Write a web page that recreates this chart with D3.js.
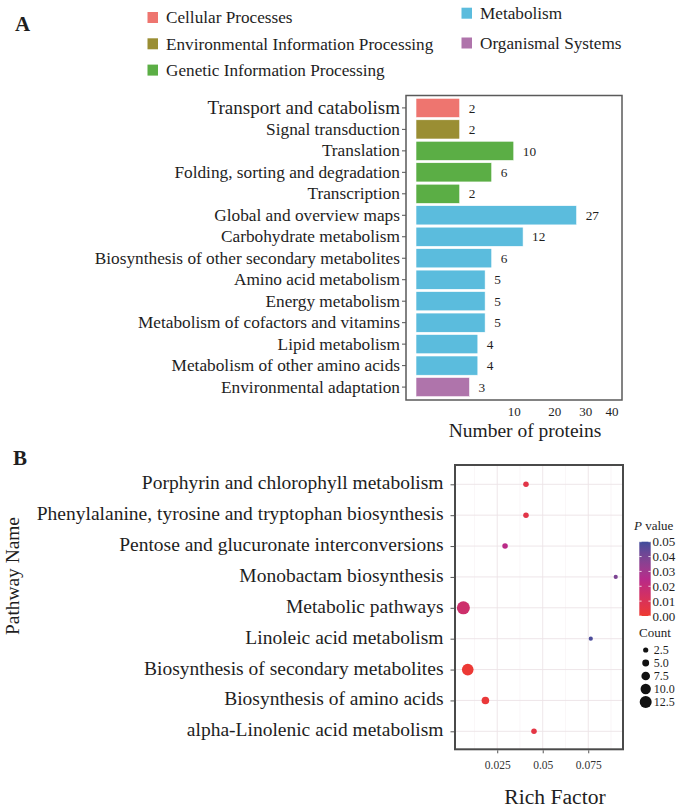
<!DOCTYPE html>
<meta charset="utf-8">
<head>
    <title>KEGG classification and enrichment</title>
</head>

<style>
    body { margin: 0; background: #fff; }
    svg text { font-family: "Liberation Serif", "Times New Roman", serif; fill: #1e1e1e; }
    .frame { fill: none; stroke: #5a5a5a; stroke-width: 1.5px; }
    .tick line { stroke: #555; }
    .grid-major { stroke: #ece3e6; stroke-width: 0.9px; }
    .grid-minor { stroke: #f5f0f2; stroke-width: 0.6px; }
</style>

<script src="https://d3js.org/d3.v7.min.js"></script>

<div id="chart"></div>

<script>
    // ---- panel A data: KEGG classes ----
    var groups = ["Cellular Processes", "Environmental Information Processing",
        "Genetic Information Processing", "Metabolism", "Organismal Systems"];
    var groupColors = ["#ee756f", "#9a8e33", "#5bae45", "#5bbcdd", "#af74ab"];

    var pathways = ["Transport and catabolism", "Signal transduction", "Translation",
        "Folding, sorting and degradation", "Transcription", "Global and overview maps",
        "Carbohydrate metabolism", "Biosynthesis of other secondary metabolites",
        "Amino acid metabolism", "Energy metabolism", "Metabolism of cofactors and vitamins",
        "Lipid metabolism", "Metabolism of other amino acids", "Environmental adaptation"];
    var pathwayGroup = [0, 1, 2, 2, 2, 3, 3, 3, 3, 3, 3, 3, 3, 4];
    var proteins = [2, 2, 10, 6, 2, 27, 12, 6, 5, 5, 5, 4, 4, 3];
    var proteinTicks = [10, 20, 30, 40];

    // ---- panel B data: enrichment ----
    var enrichNames = ["Porphyrin and chlorophyll metabolism",
        "Phenylalanine, tyrosine and tryptophan biosynthesis",
        "Pentose and glucuronate interconversions", "Monobactam biosynthesis",
        "Metabolic pathways", "Linoleic acid metabolism",
        "Biosynthesis of secondary metabolites", "Biosynthesis of amino acids",
        "alpha-Linolenic acid metabolism"];
    var richFactor = [0.0408, 0.0408, 0.0293, 0.0901, 0.0064, 0.0764, 0.0088, 0.0185, 0.0452];
    var pValue = [0.006, 0.006, 0.024, 0.039, 0.016, 0.048, 0.001, 0.002, 0.005];
    var geneCount = [3, 3, 3, 1, 14, 1, 12, 6, 3];
    var richTicks = [0.025, 0.05, 0.075];
    var richMinor = [0.0125, 0.0375, 0.0625, 0.0875];
    var pTicks = [0, 0.01, 0.02, 0.03, 0.04, 0.05];
    var countTicks = [2.5, 5, 7.5, 10, 12.5];

    var W = 685, H = 810;

    var svg = d3.select("#chart")
        .append("svg")
        .attr("width", W)
        .attr("height", H);

    svg.append("rect").attr("width", W).attr("height", H).attr("fill", "#fff");

    // panel letters
    svg.append("text").attr("x", 15).attr("y", 31).style("font-size", "21px").style("font-weight", "bold").text("A");
    svg.append("text").attr("x", 13).attr("y", 465).style("font-size", "21px").style("font-weight", "bold").text("B");

    // ================= PANEL A =================
    // legend, two columns
    var legCols = [{ x: 147.5, y0: 17.5, step: 26.3 }, { x: 461.5, y0: 13.2, step: 29.8 }];
    var leg = svg.append("g").selectAll("g")
        .data(groups)
        .enter().append("g")
        .attr("transform", function (d, i) {
            var c = legCols[Math.floor(i / 3)];
            return "translate(" + c.x + "," + (c.y0 + (i % 3) * c.step) + ")";
        });
    leg.append("rect")
        .attr("x", 0).attr("y", -5.5)
        .attr("width", 10.5).attr("height", 11)
        .attr("fill", function (d, i) { return groupColors[i]; });
    leg.append("text")
        .attr("x", 18.5)
        .attr("dy", "0.34em")
        .style("font-size", "17.2px")
        .text(function (d) { return d; });

    var xA = d3.scaleSqrt().domain([0, 44.4]).range([416, 622]);
    var yA = d3.scaleBand().domain(pathways).range([98.3, 396.7]).paddingInner(0.105).paddingOuter(0);

    // y axis with labels
    var gyA = svg.append("g")
        .attr("transform", "translate(406,0)")
        .call(d3.axisLeft(yA).tickSize(4).tickPadding(2));
    gyA.select(".domain").remove();
    gyA.selectAll(".tick text")
        .style("font-size", function (d, i) { return i === 0 ? "19px" : "17.3px"; })
        .attr("dy", "0.32em");

    // bars
    svg.append("g").selectAll("rect")
        .data(pathways)
        .enter().append("rect")
        .attr("x", xA(0))
        .attr("y", function (d) { return yA(d); })
        .attr("width", function (d, i) { return xA(proteins[i]) - xA(0); })
        .attr("height", yA.bandwidth())
        .attr("fill", function (d, i) { return groupColors[pathwayGroup[i]]; })
        .attr("stroke", "#ffffff")
        .attr("stroke-width", 0.6);

    // value labels
    svg.append("g").selectAll("text")
        .data(pathways)
        .enter().append("text")
        .attr("x", function (d, i) { return xA(proteins[i]) + 9; })
        .attr("y", function (d) { return yA(d) + yA.bandwidth() / 2; })
        .attr("dy", "0.35em")
        .style("font-size", "13.3px")
        .text(function (d, i) { return proteins[i]; });

    svg.append("rect").attr("class", "frame")
        .attr("x", 406).attr("y", 95.5).attr("width", 216).attr("height", 304.5);

    // x axis
    var gxA = svg.append("g")
        .attr("transform", "translate(0,400)")
        .call(d3.axisBottom(xA).tickValues(proteinTicks).tickSize(0).tickPadding(7));
    gxA.select(".domain").remove();
    gxA.selectAll(".tick text").style("font-size", "13px");

    svg.append("text")
        .attr("x", 525).attr("y", 437)
        .style("text-anchor", "middle")
        .style("font-size", "19.5px")
        .text("Number of proteins");

    // ================= PANEL B =================
    var bLeft = 455, bRight = 623, bTop = 465, bBottom = 749.3;
    var xB = d3.scaleLinear().domain([0.0018, 0.0941]).range([bLeft, bRight]);
    var yB = d3.scalePoint().domain(enrichNames).range([484.3, 731.3]);

    var pColor = d3.scaleLinear()
        .domain([0, 0.025, 0.05])
        .range(["#ee3a31", "#b72a8a", "#3d4c9b"])
        .interpolate(d3.interpolateLab);
    var rScale = d3.scaleLinear().domain([2.5, 12.5]).range([2.6, 6.0]);

    // grid
    svg.append("g").selectAll("line")
        .data(richMinor)
        .enter().append("line").attr("class", "grid-minor")
        .attr("x1", function (d) { return xB(d); }).attr("x2", function (d) { return xB(d); })
        .attr("y1", bTop).attr("y2", bBottom);
    svg.append("g").selectAll("line")
        .data(richTicks)
        .enter().append("line").attr("class", "grid-major")
        .attr("x1", function (d) { return xB(d); }).attr("x2", function (d) { return xB(d); })
        .attr("y1", bTop).attr("y2", bBottom);
    svg.append("g").selectAll("line")
        .data(enrichNames)
        .enter().append("line").attr("class", "grid-major")
        .attr("x1", bLeft).attr("x2", bRight)
        .attr("y1", function (d) { return yB(d); }).attr("y2", function (d) { return yB(d); });

    // points
    svg.append("g").selectAll("circle")
        .data(enrichNames)
        .enter().append("circle")
        .attr("cx", function (d, i) { return xB(richFactor[i]); })
        .attr("cy", function (d) { return yB(d); })
        .attr("r", function (d, i) { return rScale(geneCount[i]); })
        .attr("fill", function (d, i) { return pColor(pValue[i]); });

    svg.append("rect").attr("class", "frame")
        .style("stroke", "#4a4a4a").style("stroke-width", "2px")
        .attr("x", bLeft).attr("y", bTop).attr("width", bRight - bLeft).attr("height", bBottom - bTop);

    var gyB = svg.append("g")
        .attr("transform", "translate(" + (bLeft - 1) + ",0)")
        .call(d3.axisLeft(yB).tickSize(3.5).tickPadding(7));
    gyB.select(".domain").remove();
    gyB.selectAll(".tick text").style("font-size", "19.5px").attr("dy", "0.23em");

    var gxB = svg.append("g")
        .attr("transform", "translate(0," + (bBottom + 1) + ")")
        .call(d3.axisBottom(xB).tickValues(richTicks).tickFormat(d3.format("")).tickSize(3).tickPadding(8));
    gxB.select(".domain").remove();
    gxB.selectAll(".tick text").style("font-size", "11.5px").style("fill", "#333");

    svg.append("text")
        .attr("x", 555).attr("y", 804)
        .style("text-anchor", "middle")
        .style("font-size", "21.6px")
        .text("Rich Factor");

    svg.append("text")
        .attr("transform", "translate(19,576) rotate(-90)")
        .style("text-anchor", "middle")
        .style("font-size", "19.4px")
        .text("Pathway Name");

    // ---- P value colorbar ----
    var pt = svg.append("text").attr("x", 634).attr("y", 530).style("font-size", "13px");
    pt.append("tspan").style("font-style", "italic").text("P");
    pt.append("tspan").text(" value");

    var yBar = d3.scaleLinear().domain([0, 0.05]).range([616, 541.7]);
    var grad = svg.append("defs").append("linearGradient")
        .attr("id", "pgrad").attr("x1", 0).attr("x2", 0).attr("y1", 1).attr("y2", 0);
    grad.selectAll("stop")
        .data(d3.range(0, 0.0501, 0.0025))
        .enter().append("stop")
        .attr("offset", function (d) { return d / 0.05; })
        .attr("stop-color", function (d) { return pColor(d); });
    svg.append("rect")
        .attr("x", 639.3).attr("y", yBar(0.05))
        .attr("width", 11.4).attr("height", yBar(0) - yBar(0.05))
        .attr("fill", "url(#pgrad)");
    var bt = svg.append("g").selectAll("g").data(pTicks).enter().append("g");
    bt.append("line").attr("x1", 639.3).attr("x2", 641.6)
        .attr("y1", function (d) { return yBar(d); }).attr("y2", function (d) { return yBar(d); })
        .attr("stroke", "#fff").attr("stroke-width", 0.8);
    bt.append("line").attr("x1", 648.4).attr("x2", 650.7)
        .attr("y1", function (d) { return yBar(d); }).attr("y2", function (d) { return yBar(d); })
        .attr("stroke", "#fff").attr("stroke-width", 0.8);
    bt.append("text")
        .attr("x", 652.5).attr("y", function (d) { return yBar(d); })
        .attr("dy", "0.35em")
        .style("font-size", "13px")
        .text(function (d) { return d3.format(".2f")(d); });

    // ---- Count legend ----
    svg.append("text").attr("x", 639).attr("y", 637).style("font-size", "13px").text("Count");
    var cl = svg.append("g").selectAll("g")
        .data(countTicks)
        .enter().append("g")
        .attr("transform", function (d, i) { return "translate(645.7," + (650 + i * 13) + ")"; });
    cl.append("circle").attr("r", function (d) { return rScale(d); }).attr("fill", "#111");
    cl.append("text").attr("x", 8).attr("dy", "0.35em").style("font-size", "12px")
        .text(function (d) { return d3.format(".1f")(d); });
</script>
